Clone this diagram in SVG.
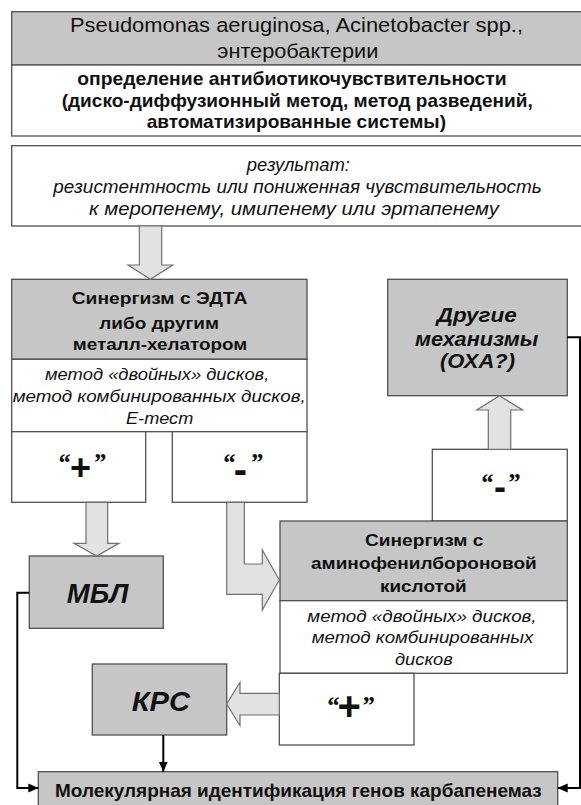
<svg xmlns="http://www.w3.org/2000/svg" width="581" height="805" viewBox="0 0 581 805">
<defs>
<style>
.g{fill:#c6c6c6;stroke:#505050;stroke-width:1.3}
.w{fill:#ffffff;stroke:#505050;stroke-width:1.3}
.blk{fill:#e2e2e2;stroke:#707070;stroke-width:1.2;stroke-linejoin:miter}
.con{fill:none;stroke:#000;stroke-width:2}
text{font-family:"Liberation Sans",Arial,sans-serif;fill:#111}
.reg{font-size:19.5px}
.b18{font-size:18.5px;font-weight:bold}
.i18{font-size:18px;font-style:italic}
.b16{font-size:16.5px;font-weight:bold}
.i16{font-size:16.5px;font-style:italic}
.bi20{font-size:20.5px;font-weight:bold;font-style:italic}
.bi28{font-size:28px;font-weight:bold;font-style:italic}
.sg{text-anchor:middle}
.qm{font-family:"Liberation Serif","Times New Roman",serif;font-size:26px;font-style:italic;font-weight:bold}
.pl{font-size:36px;font-weight:bold}
.pl40{font-size:40px;font-weight:bold}
.mn{font-size:40px;font-weight:bold}
.mn36{font-size:36px;font-weight:bold}
</style>
<marker id="ah" markerUnits="userSpaceOnUse" markerWidth="10" markerHeight="10" viewBox="0 0 10 10" refX="10" refY="5" orient="auto">
<path d="M0,0.5 L10,5 L0,9.5 Z" fill="#000"/>
</marker>
</defs>

<g id="source">
<rect class="g" x="11.7" y="11.7" width="600" height="53.3"/>
<rect class="w" x="11.7" y="65" width="600" height="71"/>
<text class="reg" x="70" y="32" textLength="453" lengthAdjust="spacingAndGlyphs">Pseudomonas aeruginosa, Acinetobacter spp.,</text>
<text class="reg" x="217.3" y="58" textLength="161" lengthAdjust="spacingAndGlyphs">энтеробактерии</text>
<text class="b18" x="77.3" y="85" textLength="429.4" lengthAdjust="spacingAndGlyphs">определение антибиотикочувствительности</text>
<text class="b18" x="61.7" y="106.5" textLength="471" lengthAdjust="spacingAndGlyphs">(диско-диффузионный метод, метод разведений,</text>
<text class="b18" x="146.7" y="128" textLength="299.3" lengthAdjust="spacingAndGlyphs">автоматизированные системы)</text>
</g>

<g id="result">
<rect class="w" x="11.7" y="145.7" width="600" height="80.3"/>
<text class="i18" x="246.7" y="170.7" textLength="103.3" lengthAdjust="spacingAndGlyphs">результат:</text>
<text class="i18" x="53.3" y="193.3" textLength="488.4" lengthAdjust="spacingAndGlyphs">резистентность или пониженная чувствительность</text>
<text class="i18" x="89" y="215" textLength="410" lengthAdjust="spacingAndGlyphs">к меропенему, имипенему или эртапенему</text>
</g>

<g id="edta">
<rect class="g" x="11.7" y="279.3" width="295.3" height="80"/>
<rect class="w" x="11.7" y="359.3" width="295.3" height="72.4"/>
<text class="b16" x="71.7" y="304.3" textLength="175.6" lengthAdjust="spacingAndGlyphs">Синергизм с ЭДТА</text>
<text class="b16" x="99.3" y="328.5" textLength="119.7" lengthAdjust="spacingAndGlyphs">либо другим</text>
<text class="b16" x="72.7" y="350" textLength="174.6" lengthAdjust="spacingAndGlyphs">металл-хелатором</text>
<text class="i16" x="45" y="380" textLength="224.3" lengthAdjust="spacingAndGlyphs">метод «двойных» дисков,</text>
<text class="i16" x="12.7" y="401.7" textLength="293" lengthAdjust="spacingAndGlyphs">метод комбинированных дисков,</text>
<text class="i16" x="126" y="424" textLength="67.3" lengthAdjust="spacingAndGlyphs">Е-тест</text>
</g>

<g id="edta-plus">
<rect class="w" x="11.7" y="431.7" width="134" height="70.6"/>
<text class="sg"><tspan class="qm" x="63.8" y="470.6">“</tspan><tspan class="pl" x="80.4" y="479.7">+</tspan><tspan class="qm" x="99.2" y="470.6">”</tspan></text>
</g>

<g id="edta-minus">
<rect class="w" x="172.3" y="431.7" width="134.7" height="70.6"/>
<text class="sg"><tspan class="qm" x="228.5" y="470.6">“</tspan><tspan class="mn" x="240.5" y="482.5">-</tspan><tspan class="qm" x="256.2" y="470.6">”</tspan></text>
</g>

<g id="other">
<rect class="g" x="387.7" y="279.3" width="179.6" height="116.4"/>
<text class="bi20" x="436.7" y="321.7" textLength="80" lengthAdjust="spacingAndGlyphs">Другие</text>
<text class="bi20" x="415" y="346" textLength="123.3" lengthAdjust="spacingAndGlyphs">механизмы</text>
<text class="bi20" x="440" y="368" textLength="75" lengthAdjust="spacingAndGlyphs">(ОХА?)</text>
</g>

<g id="apb-minus">
<rect class="w" x="432.3" y="449.3" width="135" height="71.7"/>
<text class="sg"><tspan class="qm" x="486.5" y="490.6">“</tspan><tspan class="mn36" x="500" y="499.3">-</tspan><tspan class="qm" x="513.5" y="490.6">”</tspan></text>
</g>

<g id="apb">
<rect class="g" x="280" y="521" width="287.3" height="79.7"/>
<rect class="w" x="280" y="600.7" width="287.3" height="72.6"/>
<text class="b16" x="365" y="546" textLength="118.3" lengthAdjust="spacingAndGlyphs">Синергизм с</text>
<text class="b16" x="311" y="569.3" textLength="225.7" lengthAdjust="spacingAndGlyphs">аминофенилбороновой</text>
<text class="b16" x="380" y="591.7" textLength="86.7" lengthAdjust="spacingAndGlyphs">кислотой</text>
<text class="i16" x="307.3" y="621.7" textLength="229.3" lengthAdjust="spacingAndGlyphs">метод «двойных» дисков,</text>
<text class="i16" x="311.7" y="643.3" textLength="221.7" lengthAdjust="spacingAndGlyphs">метод комбинированных</text>
<text class="i16" x="395" y="665" textLength="57.7" lengthAdjust="spacingAndGlyphs">дисков</text>
</g>

<g id="apb-plus">
<rect class="w" x="279.3" y="673.3" width="134.7" height="71.7"/>
<text class="sg"><tspan class="qm" x="332.5" y="714.3">“</tspan><tspan class="pl40" x="349.2" y="720">+</tspan><tspan class="qm" x="367.7" y="714.3">”</tspan></text>
</g>

<g id="mbl">
<rect class="g" x="29.3" y="556" width="134" height="72.3"/>
<text class="bi28" x="66.7" y="603.3" textLength="61.7" lengthAdjust="spacingAndGlyphs">МБЛ</text>
</g>

<g id="kpc">
<rect class="g" x="92.3" y="664" width="134.4" height="71"/>
<text class="bi28" x="131.7" y="711" textLength="58.3" lengthAdjust="spacingAndGlyphs">КРС</text>
</g>

<g id="molecular">
<rect class="g" x="38.3" y="771.7" width="519.4" height="45"/>
<text class="b18" x="55" y="796.5" textLength="486.7" lengthAdjust="spacingAndGlyphs">Молекулярная идентификация генов карбапенемаз</text>
</g>

<g id="connectors">
<polygon class="blk" points="139.3,226 161.7,226 161.7,265 172.7,265 150.5,279.3 128,265 139.3,265"/>
<polygon class="blk" points="86,502.3 107.7,502.3 107.7,543.3 119,543.3 96.7,556 74,543.3 86,543.3"/>
<polygon class="blk" points="226.7,502.3 244.3,502.3 244.3,564 262.3,564 262.3,550 279.3,580 262.3,610 262.3,594.3 226.7,594.3"/>
<polygon class="blk" points="488.3,449.3 510.7,449.3 510.7,410 522.7,410 499.5,395.7 476.7,410 488.3,410"/>
<polygon class="blk" points="279.3,693.3 279.3,715 240,715 240,725.7 226.7,704 240,682.3 240,693.3"/>
<polyline class="con" points="29.3,592.7 17.3,592.7 17.3,788 38.3,788" marker-end="url(#ah)"/>
<polyline class="con" points="163.3,735 163.3,771.7" marker-end="url(#ah)"/>
<polyline class="con" points="567.3,337.3 580,337.3 580,788 557.7,788" marker-end="url(#ah)"/>
</g>
</svg>
